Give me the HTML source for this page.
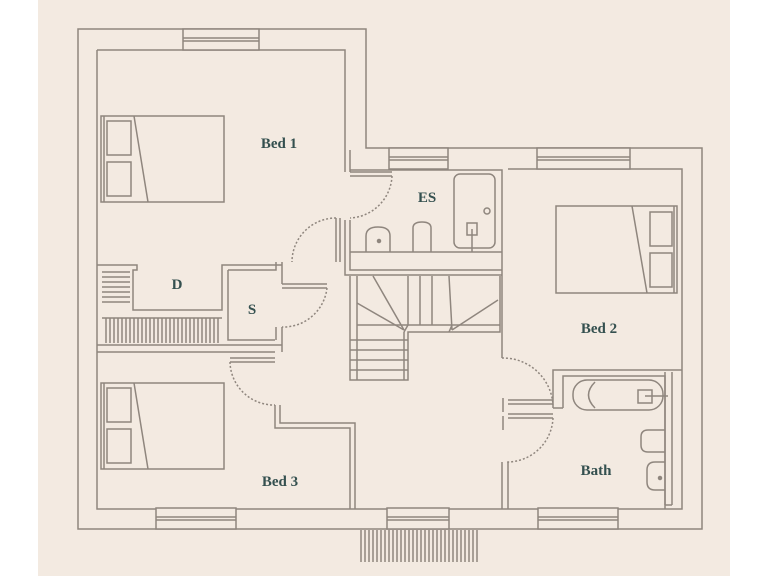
<!DOCTYPE html>
<html><head><style>
html,body{margin:0;padding:0;background:#fff;}
svg{display:block}
text{font-family:"Liberation Serif",serif;font-weight:bold;fill:#34504f;font-size:15px;text-anchor:middle}
</style></head><body>
<svg width="768" height="576" viewBox="0 0 768 576" xmlns="http://www.w3.org/2000/svg">
<rect x="38" y="0" width="692" height="576" fill="#f3eae1"/>
<g fill="none" stroke="#8f867e" stroke-width="1.5">
<!-- outer wall -->
<path d="M78 29 H366 V148 H702 V529 H78 Z"/>
<!-- inner wall -->
<path d="M97 50 H345 V172"/>
<path d="M97 50 V509 H682 V169 H508"/>
<path d="M350 172 V150 M350 170 H502 V358"/>
<!-- windows -->
<rect x="183" y="29" width="76" height="21" fill="#f3eae1"/>
<path d="M183 38 H259 M183 41 H259"/>
<rect x="389" y="148" width="59" height="21" fill="#f3eae1"/>
<path d="M389 157 H448 M389 160 H448"/>
<rect x="537" y="148" width="93" height="21" fill="#f3eae1"/>
<path d="M537 157 H630 M537 160 H630"/>
<rect x="156" y="508" width="80" height="21" fill="#f3eae1"/>
<path d="M156 517 H236 M156 520 H236"/>
<rect x="387" y="508" width="62" height="21" fill="#f3eae1"/>
<path d="M387 517 H449 M387 520 H449"/>
<rect x="538" y="508" width="80" height="21" fill="#f3eae1"/>
<path d="M538 517 H618 M538 520 H618"/>
<!-- stairs outside -->
<path d="M361 530V562 M365 530V562 M369 530V562 M373 530V562 M377 530V562 M381 530V562 M385 530V562 M389 530V562 M393 530V562 M397 530V562 M401 530V562 M405 530V562 M409 530V562 M413 530V562 M417 530V562 M421 530V562 M425 530V562 M429 530V562 M433 530V562 M437 530V562 M441 530V562 M445 530V562 M449 530V562 M453 530V562 M457 530V562 M461 530V562 M465 530V562 M469 530V562 M473 530V562 M477 530V562"/>
<!-- beds -->
<rect x="101" y="116" width="123" height="86"/>
<rect x="107" y="121" width="24" height="34"/><rect x="107" y="162" width="24" height="34"/>
<path d="M134 116 L148 202 M104 116 V202"/>
<rect x="101" y="383" width="123" height="86"/>
<rect x="107" y="388" width="24" height="34"/><rect x="107" y="429" width="24" height="34"/>
<path d="M134 383 L148 469 M104 383 V469"/>
<rect x="556" y="206" width="121" height="87"/>
<rect x="650" y="212" width="22" height="34"/><rect x="650" y="253" width="22" height="34"/>
<path d="M632 206 L647 293 M674 206 V293"/>
<!-- ES -->
<path d="M350 220 V270 H502 M350 252 H502 M345 220 V275 H502"/>
<rect x="454" y="174" width="41" height="74" rx="6"/>
<circle cx="487" cy="211" r="3"/>
<rect x="467" y="223" width="10" height="12"/><path d="M472 229 V252"/>
<path d="M366 252 V236 Q366 227 378 227 Q390 227 390 236 V252"/>
<circle cx="379" cy="241" r="1.5" fill="#8f867e"/>
<path d="M413 252 V228 Q413 222 422 222 Q431 222 431 228 V252"/>
<!-- stairs -->
<path d="M350 276 V380 H408 V332 H500 V276 M357 276 V380 M404 332 V380 M350 340 H408 M350 350 H408 M350 360 H408 M350 370 H408 M357 325 H500"/>
<path d="M373 276 L404 330 M357 303 L404 330 M408 276 V325 M420 276 V325 M432 276 V325 M449 276 L452 330 M498 300 L452 330 M408 325 L404 332 M452 325 L449 332"/>
<!-- D and S closets -->
<path d="M97 265 H137 V270 H133 V310 H222 V265 H282"/>
<path d="M102 272 H130 M102 277 H130 M102 282 H130 M102 287 H130 M102 292 H130 M102 297 H130 M102 302 H130"/>
<path d="M102 318 H222 M97 345 H282 M97 352 H275"/>
<path d="M106 318V343 M110 318V343 M114 318V343 M118 318V343 M122 318V343 M126 318V343 M130 318V343 M134 318V343 M138 318V343 M142 318V343 M146 318V343 M150 318V343 M154 318V343 M158 318V343 M162 318V343 M166 318V343 M170 318V343 M174 318V343 M178 318V343 M182 318V343 M186 318V343 M190 318V343 M194 318V343 M198 318V343 M202 318V343 M206 318V343 M210 318V343 M214 318V343 M218 318V343"/>
<path d="M228 270 V340 H275 M228 270 H276 V262 M282 262 V284 M276 327 V340 M282 327 V352"/>
<!-- doors -->
<path d="M350 172 H392 M350 176 H392"/>
<path d="M392 176 A 44 44 0 0 1 350 218" stroke-dasharray="2 2"/>
<path d="M336 218 V262 M340 218 V262"/>
<path d="M336 218 A 44 44 0 0 0 292 262" stroke-dasharray="2 2"/>
<path d="M282 284 H327 M282 288 H327"/>
<path d="M327 288 A 44 44 0 0 1 282 327" stroke-dasharray="2 2"/>
<path d="M230 358 H275 M230 362 H275"/>
<path d="M230 362 A 44 44 0 0 0 275 405" stroke-dasharray="2 2"/>
<path d="M275 405 V428 H350 V509 M280 405 V423 H355 V509"/>
<path d="M502 358 A 50 50 0 0 1 553 405" stroke-dasharray="2 2"/>
<path d="M508 400 H553 M508 404 H553 M503 398 V412 M503 416 V430"/>
<path d="M508 414 H553 M508 418 H553"/>
<path d="M553 418 A 46 46 0 0 1 507 462" stroke-dasharray="2 2"/>
<path d="M502 462 V509 M508 462 V509"/>
<!-- bath -->
<path d="M553 408 V370 H682 M563 408 V376 H665 V509 M553 408 H563"/>
<rect x="573" y="380" width="90" height="30" rx="14"/>
<path d="M595 382 Q582 395 595 408"/>
<rect x="638" y="390" width="14" height="13"/><path d="M645 396 H668"/>
<path d="M665 372 V505 M672 372 V505 M665 505 H672"/>
<path d="M665 430 H648 Q641 430 641 437 V445 Q641 452 648 452 H665"/>
<path d="M665 462 H655 Q647 462 647 470 V482 Q647 490 655 490 H665"/>
<circle cx="660" cy="478" r="1.5" fill="#8f867e"/>
</g>
<text x="279" y="148">Bed 1</text>
<text x="427" y="202">ES</text>
<text x="177" y="289">D</text>
<text x="252" y="314">S</text>
<text x="599" y="333">Bed 2</text>
<text x="280" y="486">Bed 3</text>
<text x="596" y="475">Bath</text>
</svg>
</body></html>
